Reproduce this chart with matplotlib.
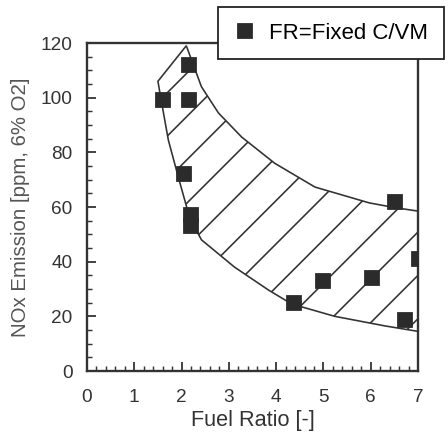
import matplotlib
matplotlib.use('Agg')
import matplotlib.pyplot as plt
from matplotlib.ticker import MultipleLocator

# measured points (fuel ratio, NOx ppm)
fr = [1.6, 2.15, 2.15, 2.05, 2.2, 2.2, 4.38, 5.0, 6.03, 6.52, 6.72, 7.03]
nox = [99, 112, 99, 72, 57, 53, 25, 33, 34, 62, 18.5, 41]

# hatched band outline
upper_x = [1.5, 2.1, 2.42, 2.78, 3.27, 3.97, 4.82, 5.97, 6.5, 7.0]
upper_y = [106, 119, 104, 94.4, 85.6, 76, 67.3, 61.5, 59.8, 58.5]
lower_x = [7.0, 6.3, 5.24, 4.33, 3.84, 3.12, 2.42, 2.2]
lower_y = [14.5, 16.5, 20, 24.5, 29.6, 38, 48, 55]
left_x = [2.2, 2.14, 1.93, 1.72, 1.57, 1.5]
left_y = [55, 58, 71, 84.5, 99, 106]

plt.rcParams['font.family'] = ['Liberation Sans', 'DejaVu Sans']
plt.rcParams['hatch.linewidth'] = 0.9
plt.rcParams['hatch.color'] = '#333333'

fig = plt.figure(figsize=(448 / 130, 439 / 130), dpi=130)
ax = fig.add_axes([87 / 448, 1 - 371 / 439, 331 / 448, 328 / 439])

band_x = upper_x + lower_x + left_x
band_y = upper_y + lower_y + left_y
ax.fill(band_x, band_y, facecolor='none', edgecolor='#333333', hatch='/', linewidth=0.9)

ax.plot(fr, nox, 's', color='#2b2b2b', markersize=8, label='FR=Fixed C/VM', zorder=3)

ax.set_xlim(0, 7)
ax.set_ylim(0, 120)
ax.xaxis.set_major_locator(MultipleLocator(1))
ax.xaxis.set_minor_locator(MultipleLocator(0.2))
ax.yaxis.set_major_locator(MultipleLocator(20))
ax.yaxis.set_minor_locator(MultipleLocator(5))
ax.tick_params(direction='in', which='both', colors='#333333', labelcolor='#333333',
               labelsize=10.5, top=False, right=False)
ax.tick_params(which='major', length=5, width=1)
ax.tick_params(axis='x', which='major', pad=10)
ax.tick_params(axis='y', which='major', pad=8)
ax.tick_params(which='minor', length=2.5, width=0.8)
for s in ax.spines.values():
    s.set_linewidth(1.3)
    s.set_color('#333333')

ax.set_xlabel('Fuel Ratio [-]', fontsize=12, color='#333333', labelpad=2)
ax.set_ylabel('NOx Emission [ppm, 6% O2]', fontsize=11.3, color='#555555', labelpad=6)

fig.legend(loc='upper left', bbox_to_anchor=(218 / 448, 1 - 7 / 439), fontsize=12.3,
           frameon=True, fancybox=False, edgecolor='#222222', framealpha=1,
           borderpad=0.7, handletextpad=0.6, borderaxespad=0, handlelength=1.0)

fig.savefig('out.png', dpi=130)
